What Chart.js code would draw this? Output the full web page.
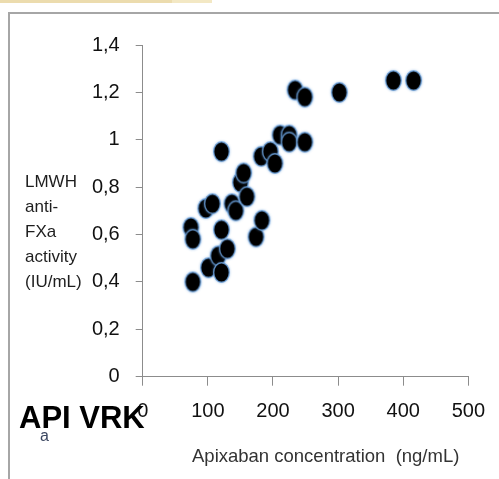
<!DOCTYPE html>
<html>
<head>
<meta charset="utf-8">
<script src="https://cdn.jsdelivr.net/npm/chart.js@4/dist/chart.umd.min.js"></script>
<style>
  html, body { margin: 0; padding: 0; background: #fff; }
  #wrap { position: relative; width: 499px; height: 479px; overflow: hidden; font-family: "Liberation Sans", Arial, sans-serif; }
  #c { position: absolute; left: 0; top: 0; }
  .frameTop { position: absolute; left: 9px; top: 12px; width: 490px; height: 2px; background: #a6a6a6; }
  .frameLeft { position: absolute; left: 8px; top: 12px; width: 2px; height: 467px; background: #a6a6a6; }
  .bar1 { position: absolute; left: 0; top: 0; width: 172px; height: 3px; background: #ecdcae; }
  .bar2 { position: absolute; left: 172px; top: 0; width: 40px; height: 3px; background: #f3e8c4; }
  #ytitle { position: absolute; left: 25px; top: 169px; font-size: 17px; line-height: 25px; color: #1e1e1e; white-space: nowrap; }
  #xtitle { position: absolute; left: 192px; top: 447px; font-size: 18.5px; line-height: 1; color: #333; white-space: pre; }
  #label1 { position: absolute; left: 19px; top: 402px; font-size: 31px; line-height: 1; font-weight: bold; color: #000; white-space: nowrap; }
  #label2 { position: absolute; left: 40px; top: 428px; font-size: 16px; line-height: 1; color: #3a4660; }
</style>
</head>
<body>
<div id="wrap">
  <div class="bar1"></div><div class="bar2"></div>
  <div class="frameTop"></div><div class="frameLeft"></div>
  <canvas id="c" width="499" height="479"></canvas>
  <div id="ytitle">LMWH<br>anti-<br>FXa<br>activity<br>(IU/mL)</div>
  <div id="xtitle"></div>
  <div id="label1">API VRK</div>
  <div id="label2">a</div>
</div>
<script>
// Data
const apixabanConc = [74, 77, 77, 97, 107, 101, 116, 121, 121, 130, 121, 137, 143, 150, 155, 160, 174, 183, 182, 196, 203, 211, 225, 225, 249, 234, 249, 302, 385, 416];
const antiFXaActivity = [0.63, 0.58, 0.40, 0.71, 0.73, 0.46, 0.51, 0.44, 0.62, 0.54, 0.95, 0.73, 0.70, 0.82, 0.86, 0.76, 0.59, 0.66, 0.93, 0.95, 0.90, 1.02, 1.02, 0.99, 0.99, 1.21, 1.18, 1.20, 1.25, 1.25];
const xTickValues = [0, 100, 200, 300, 400, 500];
const yTickValues = [0, 0.2, 0.4, 0.6, 0.8, 1.0, 1.2, 1.4];
const yTickLabels = ["0", "0,2", "0,4", "0,6", "0,8", "1", "1,2", "1,4"];
const xAxisTitle = "Apixaban concentration  (ng/mL)";

document.getElementById('xtitle').textContent = xAxisTitle;

const points = apixabanConc.map((x, i) => ({ x: x, y: antiFXaActivity[i] }));

// elliptical marker: black fill with soft light-blue rim
function makeMarker() {
  const cv = document.createElement('canvas');
  cv.width = 23; cv.height = 27;
  const g = cv.getContext('2d');
  g.beginPath();
  g.ellipse(11.5, 13.5, 7.8, 9.8, 0, 0, Math.PI * 2);
  g.shadowColor = 'rgba(100,155,215,0.95)';
  g.shadowBlur = 3;
  g.fillStyle = '#000';
  g.fill();
  g.shadowBlur = 0;
  g.lineWidth = 1.4;
  g.strokeStyle = 'rgba(110,165,225,0.8)';
  g.stroke();
  return cv;
}
const marker = makeMarker();

const axisColor = '#8c8c8c';
const tickFont = { family: '"Liberation Sans", Arial, sans-serif', size: 20 };

new Chart(document.getElementById('c'), {
  type: 'scatter',
  data: {
    datasets: [{
      data: points,
      pointStyle: marker,
      pointRadius: 9,
      pointHoverRadius: 9
    }]
  },
  options: {
    responsive: false,
    animation: false,
    devicePixelRatio: 1,
    layout: { padding: { top: 45, right: 26.7, bottom: 0, left: 0 } },
    plugins: { legend: { display: false }, tooltip: { enabled: false } },
    scales: {
      x: {
        type: 'linear',
        min: 0, max: 500,
        afterBuildTicks: s => { s.ticks = xTickValues.map(v => ({ value: v })); },
        afterFit: s => { s.height = 102.3; },
        grid: { drawOnChartArea: false, drawTicks: true, tickLength: 9, color: axisColor },
        border: { display: true, color: axisColor, width: 1 },
        ticks: { color: '#111', font: tickFont, padding: 14, maxRotation: 0, autoSkip: false },
        title: { display: false }
      },
      y: {
        type: 'linear',
        min: 0, max: 1.4,
        afterBuildTicks: s => { s.ticks = yTickValues.map(v => ({ value: v })); },
        afterFit: s => { s.width = 142.7; },
        grid: { drawOnChartArea: false, drawTicks: true, tickLength: 7, color: axisColor },
        border: { display: true, color: axisColor, width: 1 },
        ticks: {
          color: '#111', font: tickFont, padding: 16, autoSkip: false,
          callback: function (v, i) { return yTickLabels[i]; }
        }
      }
    }
  }
});
</script>
</body>
</html>
